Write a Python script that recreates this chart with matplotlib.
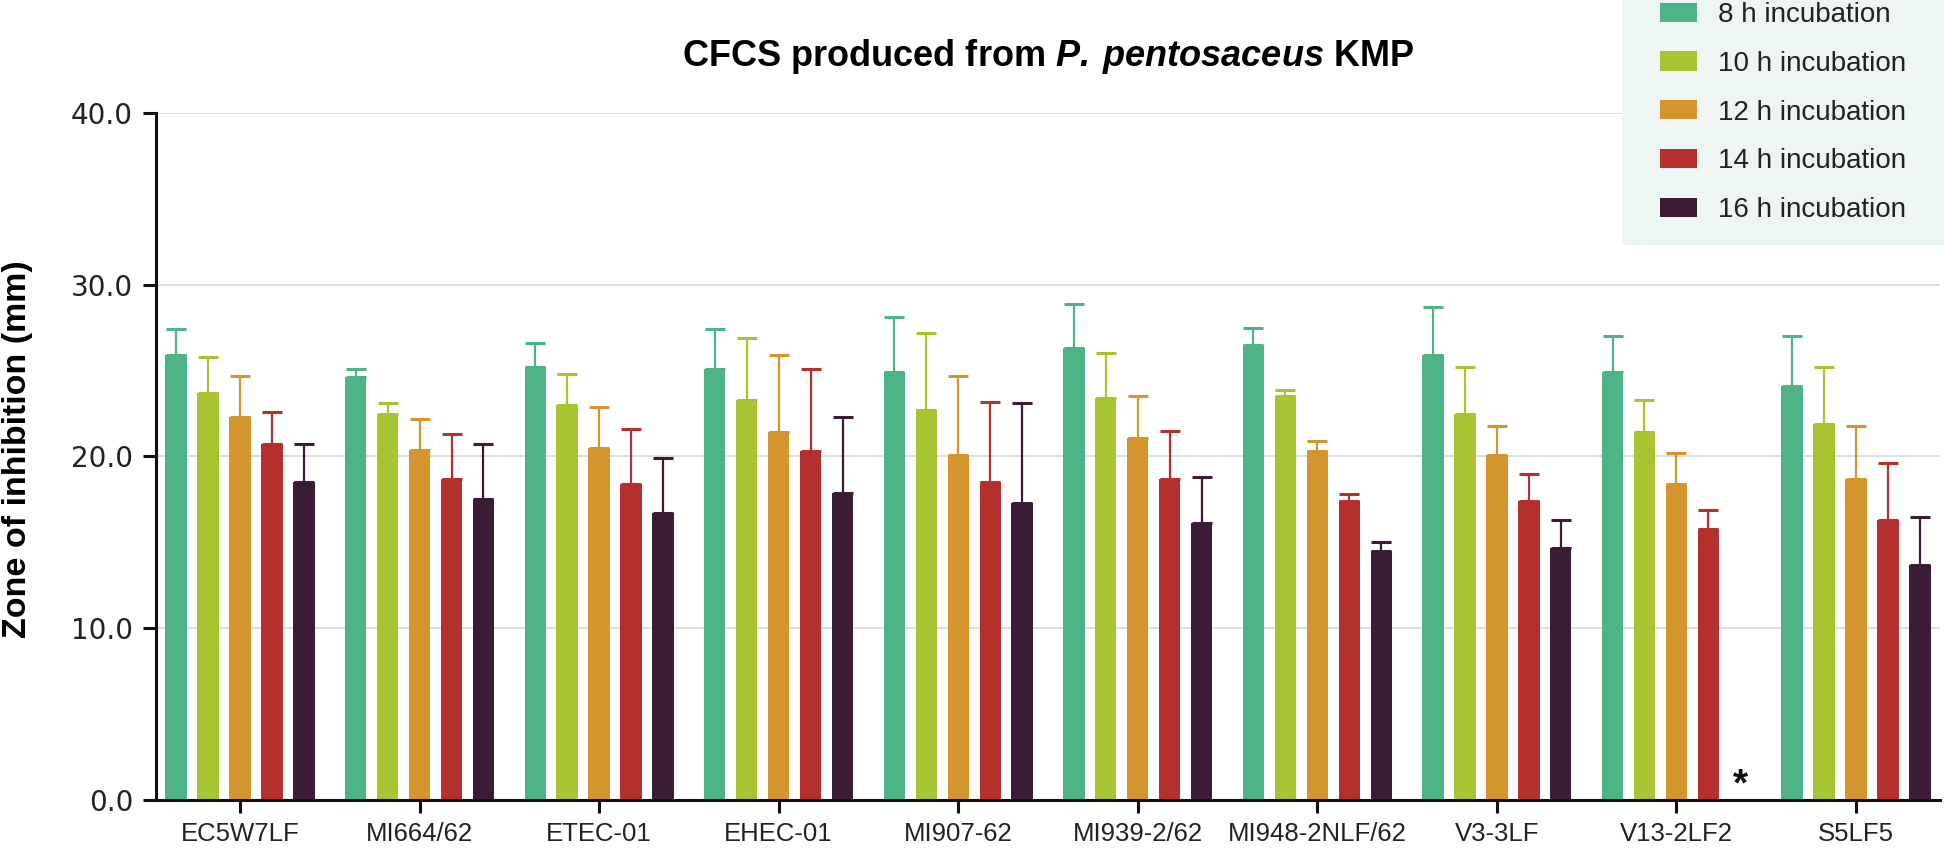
import matplotlib
matplotlib.use("Agg")
import matplotlib.pyplot as plt
import numpy as np
from matplotlib.patches import Patch, Rectangle

# data (means and upper SD)
strains = ['EC5W7LF', 'MI664/62', 'ETEC-01', 'EHEC-01', 'MI907-62',
           'MI939-2/62', 'MI948-2NLF/62', 'V3-3LF', 'V13-2LF2', 'S5LF5']
series_names = ['8 h incubation', '10 h incubation', '12 h incubation',
                '14 h incubation', '16 h incubation']

h8 = [25.9, 24.6, 25.2, 25.1, 24.9, 26.3, 26.5, 25.9, 24.9, 24.1]
h8_sd = [1.5, 0.5, 1.4, 2.3, 3.2, 2.6, 1.0, 2.8, 2.1, 2.9]
h10 = [23.7, 22.5, 23.0, 23.3, 22.7, 23.4, 23.5, 22.5, 21.4, 21.9]
h10_sd = [2.1, 0.6, 1.8, 3.6, 4.5, 2.6, 0.4, 2.7, 1.9, 3.3]
h12 = [22.3, 20.4, 20.5, 21.4, 20.1, 21.1, 20.3, 20.1, 18.4, 18.7]
h12_sd = [2.4, 1.8, 2.4, 4.5, 4.6, 2.4, 0.6, 1.7, 1.8, 3.1]
h14 = [20.7, 18.7, 18.4, 20.3, 18.5, 18.7, 17.4, 17.4, 15.8, 16.3]
h14_sd = [1.9, 2.6, 3.2, 4.8, 4.7, 2.8, 0.4, 1.6, 1.1, 3.3]
h16 = [18.5, 17.5, 16.7, 17.9, 17.3, 16.1, 14.5, 14.7, np.nan, 13.7]
h16_sd = [2.2, 3.2, 3.2, 4.4, 5.8, 2.7, 0.5, 1.6, np.nan, 2.8]

means = [h8, h10, h12, h14, h16]
sds = [h8_sd, h10_sd, h12_sd, h14_sd, h16_sd]
colors = ['#4cb486', '#a8c531', '#d4952e', '#b4302e', '#3b1c36']

plt.rcParams['font.family'] = ['Liberation Sans', 'DejaVu Sans']
plt.rcParams['mathtext.fontset'] = 'custom'
plt.rcParams['mathtext.rm'] = 'Liberation Sans:bold'
plt.rcParams['mathtext.bfit'] = 'Liberation Sans:italic:bold'

fig = plt.figure(figsize=(19.44, 8.55), dpi=100)
ax = fig.add_axes([156 / 1944, 55 / 855, 1784 / 1944, 687 / 855])

x = np.arange(len(strains))
pitch = 0.178
width = 0.119
for i in range(5):
    xi = x + (i - 2) * pitch
    m = np.array(means[i], dtype=float)
    s = np.array(sds[i], dtype=float)
    ax.bar(xi, m, width=width, color=colors[i], zorder=3)
    ax.errorbar(xi, m, yerr=[np.zeros_like(s), s], fmt='none', ecolor=colors[i],
                elinewidth=1.6, capsize=7.5, capthick=2.2, zorder=2)

# no inhibition at 16 h for V13-2LF2
ax.text(x[8] + 2 * pitch, 0.25, '*', ha='center', va='baseline',
        fontsize=28, fontweight='bold', color='#111111')

ax.set_xlim(-0.468, len(strains) - 1 + 0.468)
ax.set_ylim(0, 40)
ax.set_yticks([0, 10, 20, 30, 40])
ax.set_yticklabels([f'{v:.1f}' for v in [0, 10, 20, 30, 40]],
                   fontfamily='DejaVu Sans', fontsize=20, color='#222222')
ax.set_xticks(x)
ax.set_xticklabels(strains, fontsize=18.5, color='#222222')
ax.yaxis.grid(True, color='#dcdcdc', linewidth=1.3, zorder=0)
ax.set_axisbelow(True)

for side in ['top', 'right']:
    ax.spines[side].set_visible(False)
for side in ['left', 'bottom']:
    ax.spines[side].set_linewidth(2.2)
    ax.spines[side].set_color('#111111')
    ax.spines[side].set_zorder(4)
ax.tick_params(axis='x', length=9, width=2.2, pad=7, color='#111111')
ax.tick_params(axis='y', length=9.5, width=2.2, pad=7, color='#111111')

ax.set_ylabel('Zone of inhibition (mm)', fontsize=24.5, fontweight='bold')
ax.yaxis.set_label_coords(-0.069, 0.511)

fig.text(1048 / 1944, 1 - 57 / 855,
         r'CFCS produced from $\mathbfit{P.\,pentosaceus}$ KMP',
         ha='center', va='center', fontsize=26, fontweight='bold')

# legend panel
fig.patches.append(Rectangle((1622 / 1944, 1 - 245 / 855), 1, 1,
                             transform=fig.transFigure, facecolor='#eef6f3',
                             edgecolor='none', zorder=1))
handles = [Patch(facecolor=c, edgecolor='none') for c in colors]
leg = fig.legend(handles, series_names, loc='upper left',
                 bbox_to_anchor=(1660 / 1944, 1 - 2 / 855), frameon=False,
                 fontsize=20, handlelength=1.33, handleheight=0.68,
                 handletextpad=0.75, labelspacing=0.82, borderpad=0,
                 borderaxespad=0)
for t in leg.get_texts():
    t.set_color('#222222')

fig.savefig('out.png', dpi=100)
